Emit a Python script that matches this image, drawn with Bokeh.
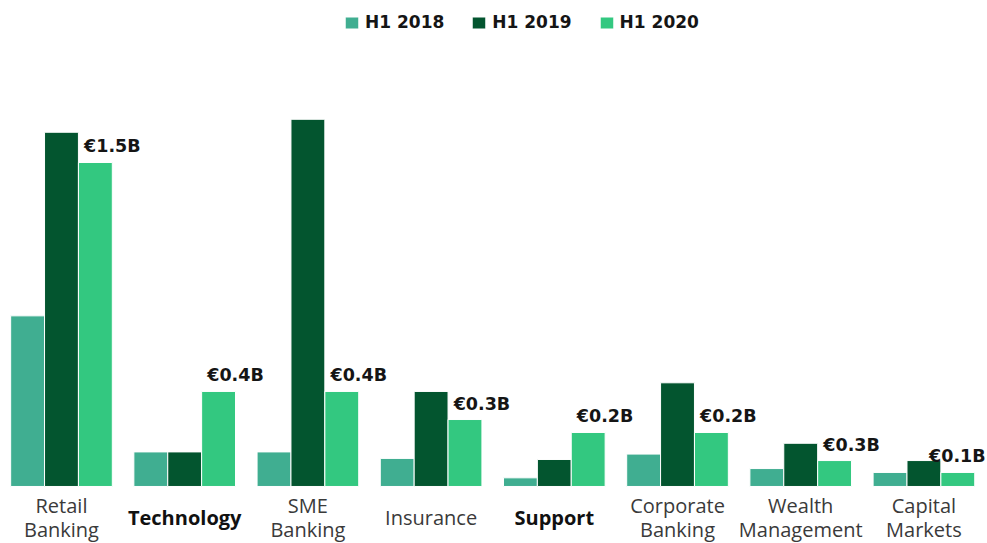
import numpy as np
from bokeh.plotting import figure
from bokeh.models import ColumnDataSource, Range1d
from bokeh.core.properties import value
from bokeh.embed import file_html
from bokeh.resources import INLINE

categories = ["Retail\nBanking", "Technology", "SME\nBanking", "Insurance", "Support",
              "Corporate\nBanking", "Wealth\nManagement", "Capital\nMarkets"]
emphasized = ["Technology", "Support"]
h1_2018 = [0.79, 0.16, 0.16, 0.13, 0.04, 0.15, 0.083, 0.065]
h1_2019 = [1.64, 0.16, 1.70, 0.44, 0.125, 0.48, 0.20, 0.12]
h1_2020 = [1.50, 0.44, 0.44, 0.31, 0.25, 0.25, 0.12, 0.065]
value_labels = ["€1.5B", "€0.4B", "€0.4B", "€0.3B", "€0.2B", "€0.2B", "€0.3B", "€0.1B"]
series_names = ["H1 2018", "H1 2019", "H1 2020"]
colors = ["#40AE91", "#03552F", "#33C880"]

n = len(categories)
xs = np.arange(n)
bw = 0.275
x_start, x_end = -0.495, 7.516

p = figure(width=987, height=543, output_backend="svg", toolbar_location=None,
           x_range=Range1d(x_start, x_end), y_range=Range1d(-0.264, 2.25),
           min_border=0, outline_line_color=None)
p.axis.visible = False
p.grid.visible = False

for k, (vals, name, col) in enumerate(zip([h1_2018, h1_2019, h1_2020], series_names, colors)):
    src = ColumnDataSource(dict(x=xs + (k - 1) * bw, top=vals))
    p.vbar(x="x", top="top", width=bw, bottom=0, source=src, fill_color=col,
           line_color="white", line_width=1, legend_label=name)

# value labels: centred on the right edge of the H1 2020 bar, kept inside the plot
half_label = 0.245
lab_x = np.minimum(xs + 1.5 * bw, x_end - half_label)
lab_src = ColumnDataSource(dict(x=lab_x, y=h1_2020, t=value_labels))
p.text(x="x", y="y", text="t", source=lab_src, text_font=value("DejaVu Sans"),
       text_font_style="bold", text_font_size="17.5px", text_color="#151515",
       text_align="center", text_baseline="middle", y_offset=-16)

# category labels
styles = ["bold" if c in emphasized else "normal" for c in categories]
tcols = ["#111111" if c in emphasized else "#3a3a3a" for c in categories]
cat_src = ColumnDataSource(dict(x=xs, y=[0] * n, t=categories, s=styles, c=tcols))
p.text(x="x", y="y", text="t", source=cat_src, text_font=value("Open Sans"),
       text_font_style="s", text_font_size="20px", text_color="c",
       text_align="center", text_baseline="middle", y_offset=31, text_line_height=0.88)

lg = p.legend[0]
lg.orientation = "horizontal"
lg.location = (343, 511)
lg.border_line_alpha = 0
lg.background_fill_alpha = 0
lg.padding = 0
lg.margin = 0
lg.glyph_width = 17
lg.glyph_height = 15
lg.label_height = 15
lg.label_standoff = 5
lg.spacing = 26
lg.label_text_font = "DejaVu Sans"
lg.label_text_font_style = "bold"
lg.label_text_font_size = "17px"
lg.label_text_color = "#151515"

open("out.html", "w").write(file_html(p, INLINE))
